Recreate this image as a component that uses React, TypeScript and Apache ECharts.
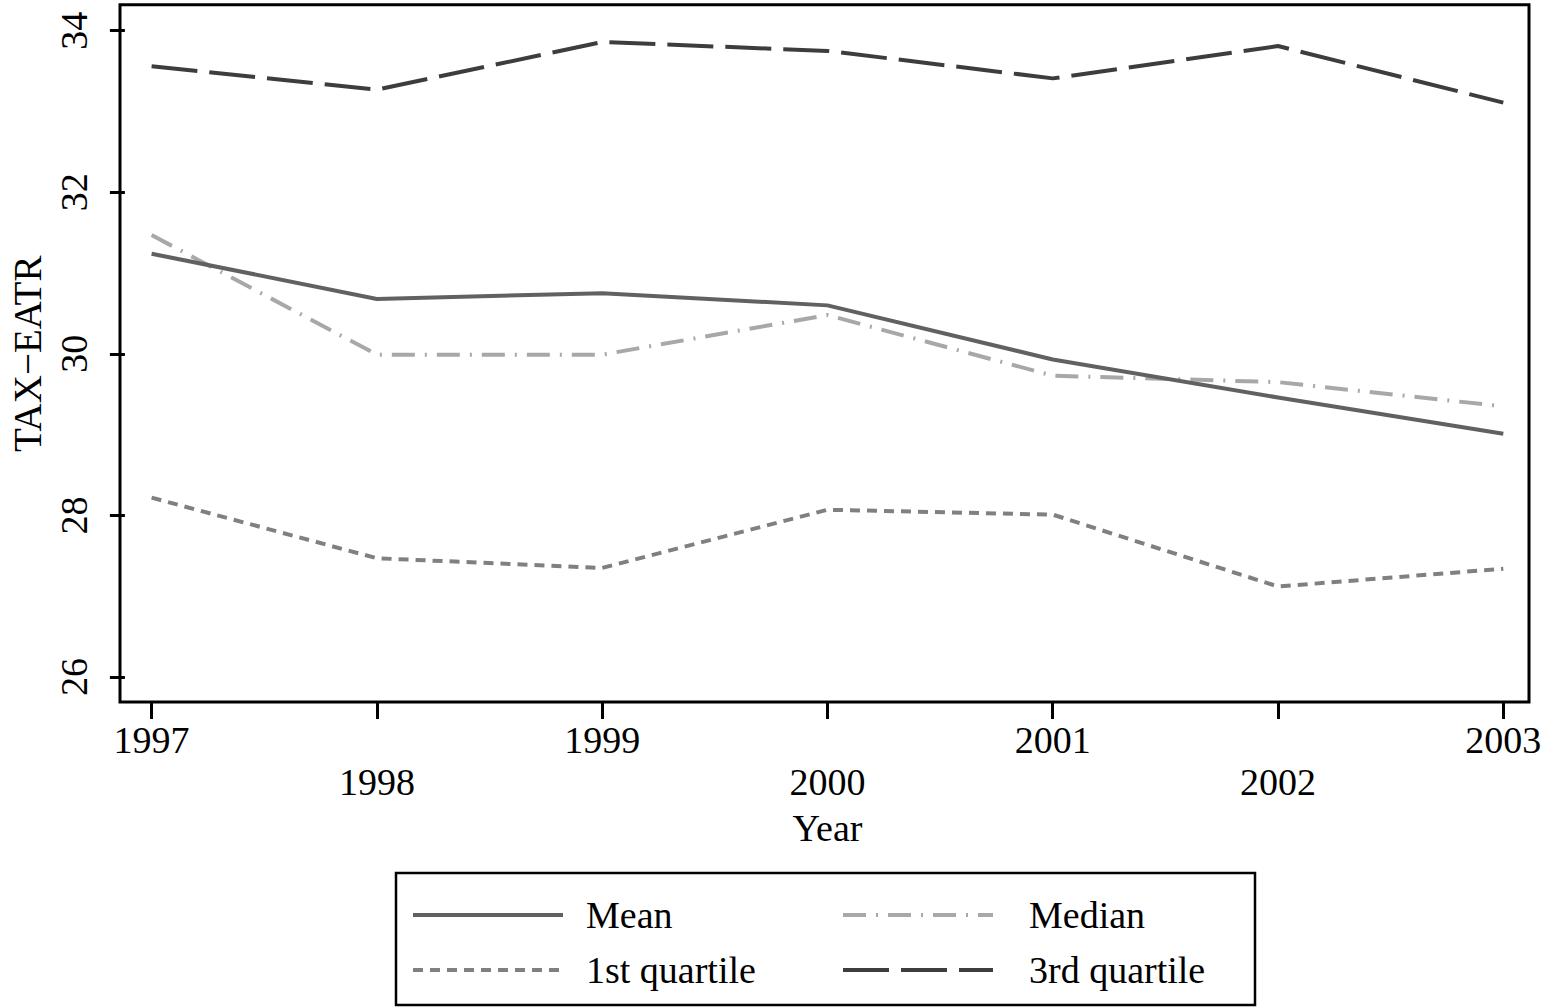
import React, { useEffect, useRef } from "react";
import * as echarts from "echarts";

const years = [1997, 1998, 1999, 2000, 2001, 2002, 2003];
const meanValues = [31.24, 30.68, 30.75, 30.6, 29.93, 29.46, 29.01];
const medianValues = [31.47, 29.99, 29.99, 30.48, 29.73, 29.65, 29.35];
const q1Values = [28.22, 27.47, 27.35, 28.07, 28.01, 27.12, 27.34];
const q3Values = [33.56, 33.27, 33.86, 33.75, 33.41, 33.81, 33.11];
const seriesNames = ["Mean", "Median", "1st quartile", "3rd quartile"];
const yMin = 26;
const yMax = 34;
const yStep = 2;
const xAxisTitle = "Year";
const yAxisTitle = "TAX\u2212EATR";

const FONT = '"Liberation Serif", "Times New Roman", "DejaVu Serif", serif';

const styles = [
  { color: "#616161", dash: "solid" as any },
  { color: "#a8a8a8", dash: [23, 10, 2, 10] },
  { color: "#808080", dash: [10, 7] },
  { color: "#3d3d3d", dash: [46, 12] },
];

export default function App() {
  const ref = useRef<HTMLDivElement>(null);
  useEffect(() => {
    if (!ref.current) return;
    const chart = echarts.init(ref.current, undefined, { renderer: "svg" });
    const allValues = [meanValues, medianValues, q1Values, q3Values];
    const series = allValues.map((vals, i) => ({
      name: seriesNames[i],
      type: "line",
      symbol: "none",
      data: years.map((y, j) => [y, vals[j]]),
      lineStyle: {
        color: styles[i].color,
        width: 4,
        type: styles[i].dash,
        cap: "butt",
        join: "round",
      },
      z: 2 + (3 - i),
    }));

    const legendPos = [
      { lx: 413, tx: 586, y: 915 },
      { lx: 843, tx: 1029, y: 915 },
      { lx: 413, tx: 586, y: 970 },
      { lx: 843, tx: 1029, y: 970 },
    ];
    const legendGraphics: any[] = [
      {
        type: "rect",
        shape: { x: 396, y: 873, width: 859, height: 132 },
        style: { fill: "#fff", stroke: "#000", lineWidth: 2.5 },
        z: 10,
      },
    ];
    seriesNames.forEach((name, i) => {
      const p = legendPos[i];
      legendGraphics.push({
        type: "line",
        shape: { x1: p.lx, y1: p.y, x2: p.lx + 150, y2: p.y },
        style: {
          stroke: styles[i].color,
          lineWidth: 4,
          lineDash: Array.isArray(styles[i].dash) ? styles[i].dash : null,
          lineCap: "butt",
        },
        z: 11,
      });
      legendGraphics.push({
        type: "text",
        x: p.tx,
        y: p.y,
        style: {
          text: name,
          font: `38px ${FONT}`,
          fill: "#000",
          textVerticalAlign: "middle",
          verticalAlign: "middle",
        },
        z: 11,
      });
    });

    chart.setOption({
      animation: false,
      backgroundColor: "#fff",
      grid: { left: 146.7, right: 41.7, top: 30.7, bottom: 331, containLabel: false },
      xAxis: {
        type: "value",
        min: years[0],
        max: years[years.length - 1],
        interval: 1,
        offset: 25,
        axisLine: { show: false },
        axisTick: { show: true, length: 17, lineStyle: { color: "#000", width: 3 } },
        splitLine: { show: false },
        axisLabel: {
          margin: 17,
          fontSize: 38,
          lineHeight: 42,
          fontFamily: FONT,
          color: "#000",
          formatter: (v: number) => (v % 2 === 0 ? "\n" + v : String(v)),
        },
        name: xAxisTitle,
        nameLocation: "middle",
        nameGap: 107,
        nameTextStyle: { fontSize: 38, fontFamily: FONT, color: "#000" },
      },
      yAxis: {
        type: "value",
        min: yMin,
        max: yMax,
        interval: yStep,
        offset: 26.7,
        axisLine: { show: false },
        axisTick: { show: true, length: 15, lineStyle: { color: "#000", width: 3 } },
        splitLine: { show: false },
        axisLabel: {
          rotate: 90,
          margin: 32,
          fontSize: 38,
          fontFamily: FONT,
          color: "#000",
        },
        name: yAxisTitle,
        nameLocation: "middle",
        nameRotate: 90,
        nameGap: 74,
        nameTextStyle: { fontSize: 39, fontFamily: FONT, color: "#000" },
      },
      graphic: [
        {
          type: "rect",
          shape: { x: 120, y: 4.7, width: 1409, height: 697.3 },
          style: { fill: "none", stroke: "#000", lineWidth: 3 },
          z: 10,
        },
        ...legendGraphics,
      ],
      series,
    });
    return () => chart.dispose();
  }, []);
  return (
    <div
      ref={ref}
      style={{ position: "fixed", left: 0, top: 0, width: 1545, height: 1008, background: "#fff" }}
    />
  );
}
